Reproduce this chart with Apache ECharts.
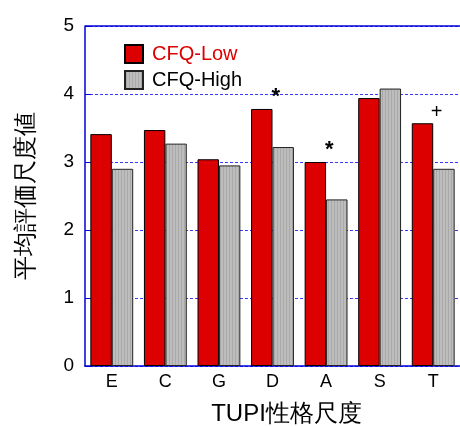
<!DOCTYPE html>
<html><head><meta charset="utf-8">
<script src="https://cdn.jsdelivr.net/npm/echarts@6/dist/echarts.min.js"></script>
<style>html,body{margin:0;padding:0;background:#fff}#c{width:460px;height:427px}</style>
</head><body><div id="c"></div>
<script>
const categories = ['E', 'C', 'G', 'D', 'A', 'S', 'T'];
const cfqLow = [3.41, 3.47, 3.04, 3.78, 3.00, 3.94, 3.57];
const cfqHigh = [2.90, 3.27, 2.95, 3.22, 2.45, 4.08, 2.90];
const marks = ['', '', '', '*', '*', '', '+'];
const yTicks = [0, 1, 2, 3, 4, 5];

const pc = document.createElement('canvas');
pc.width = 3; pc.height = 3;
const g = pc.getContext('2d');
g.fillStyle = '#bdbdbd'; g.fillRect(0, 0, 3, 3);
g.fillStyle = '#a9a9a9'; g.fillRect(1, 0, 1, 3);

const font = '"Liberation Sans", Arial, sans-serif';
const chart = echarts.init(document.getElementById('c'), null, {renderer: 'canvas'});
chart.setOption({
  animation: false,
  backgroundColor: '#fff',
  grid: {left: 85, right: 0, top: 26, bottom: 61, outerBoundsMode: 'none', containLabel: false},
  legend: {
    left: 119, top: 39, orient: 'vertical', itemWidth: 18, itemHeight: 18, itemGap: 6,
    icon: 'rect',
    textStyle: {fontFamily: font, fontSize: 20, padding: [0, 0, 0, 4]},
    data: [
      {name: 'CFQ-Low', textStyle: {color: '#dd0000'}},
      {name: 'CFQ-High', textStyle: {color: '#000'}}
    ]
  },
  xAxis: {
    type: 'category', data: categories,
    name: 'TUPI性格尺度', nameLocation: 'middle', nameGap: 36,
    nameTextStyle: {fontFamily: font, fontSize: 24, color: '#000', padding: [0, 0, 0, 28]},
    axisLine: {lineStyle: {color: '#0000dd', width: 1.5}},
    axisTick: {inside: true, length: 5, lineStyle: {color: '#0000dd'}},
    axisLabel: {fontFamily: font, fontSize: 18, color: '#000', margin: 7}
  },
  yAxis: {
    type: 'value', min: yTicks[0], max: yTicks[yTicks.length - 1], interval: 1,
    name: '平均評価尺度値', nameLocation: 'middle', nameGap: 47,
    nameTextStyle: {fontFamily: font, fontSize: 24, color: '#000'},
    axisLine: {show: true, lineStyle: {color: '#0000dd', width: 1.5}},
    axisTick: {show: true, inside: true, length: 6, lineStyle: {color: '#0000dd'}},
    axisLabel: {fontFamily: font, fontSize: 19, color: '#000', margin: 11},
    splitLine: {show: true, lineStyle: {color: '#3a3aff', type: [3, 2], width: 1.2}}
  },
  series: [
    {
      name: 'CFQ-Low', type: 'bar', data: cfqLow,
      barGap: '0%', barCategoryGap: '20%',
      itemStyle: {color: '#dd0000', borderColor: '#000', borderWidth: 1},
      label: {
        show: true, position: 'top', offset: [14, 4],
        formatter: p => marks[p.dataIndex] === '*' ? '{s|*}' : (marks[p.dataIndex] ? '{p|' + marks[p.dataIndex] + '}' : ''),
        rich: {
          s: {fontFamily: font, fontSize: 22, fontWeight: 'bold', color: '#000'},
          p: {fontFamily: font, fontSize: 20, color: '#000'}
        }
      },
      markLine: {
        silent: true, symbol: 'none', label: {show: false},
        lineStyle: {color: '#0000dd', type: 'solid', width: 1.5},
        data: [{yAxis: yTicks[yTicks.length - 1]}]
      }
    },
    {
      name: 'CFQ-High', type: 'bar', data: cfqHigh,
      itemStyle: {color: {image: pc, repeat: 'repeat'}, borderColor: '#222', borderWidth: 1}
    }
  ]
});
</script></body></html>
